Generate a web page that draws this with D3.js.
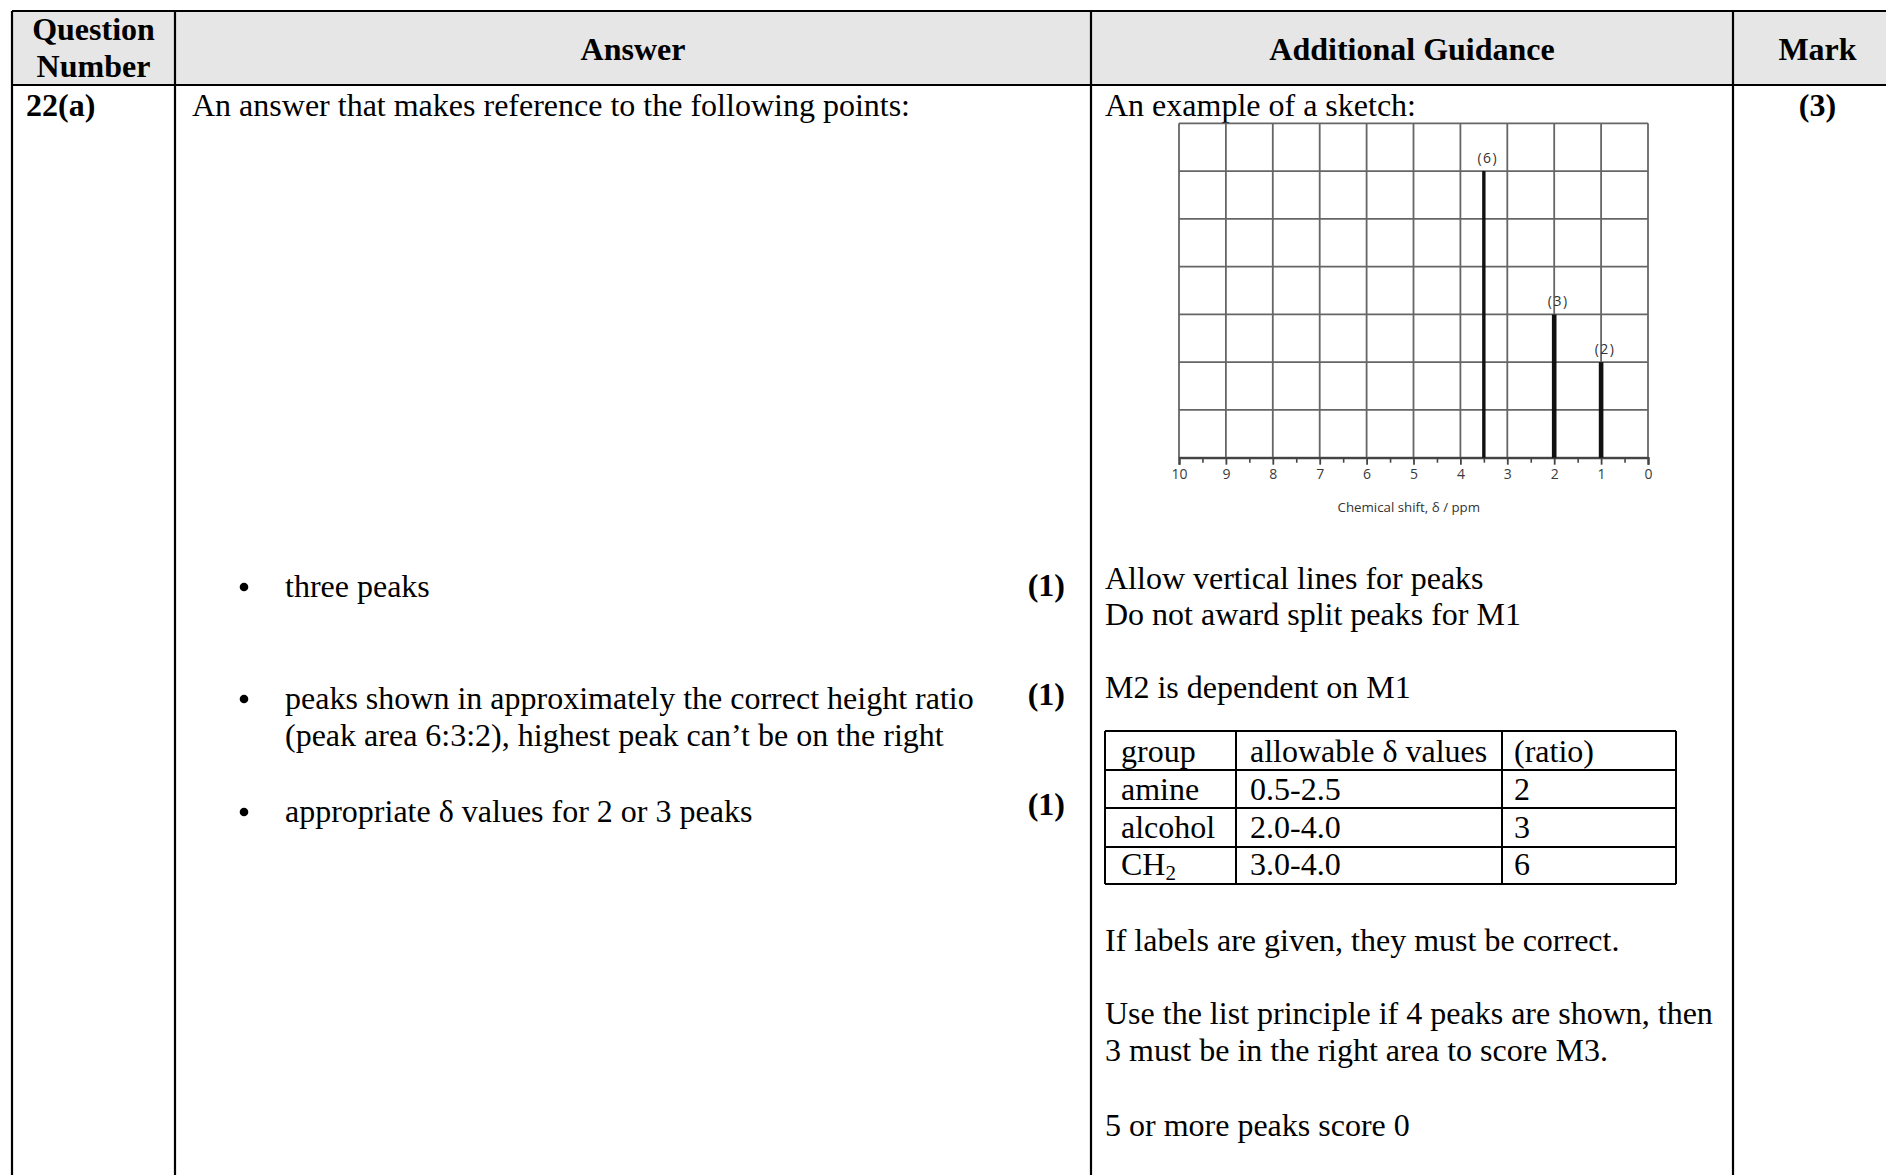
<!DOCTYPE html>
<html><head><meta charset="utf-8">
<script src="https://cdn.jsdelivr.net/npm/d3@7"></script>
<style>
html,body{margin:0;padding:0;background:#fff;overflow:hidden}
svg{display:block}
.serif{font-family:"Liberation Serif","Times New Roman",serif;fill:#000}
.axis text{font-family:"Open Sans","Noto Sans",sans-serif;fill:#3a3a3a}
</style></head>
<body>
<script>
// ---------- data ----------
const headers = ["Answer", "Additional Guidance", "Mark"];
const headerQuestion = ["Question", "Number"];
const questionNumber = "22(a)";
const answerIntro = "An answer that makes reference to the following points:";
const markingPoints = [
  ["three peaks"],
  ["peaks shown in approximately the correct height ratio", "(peak area 6:3:2), highest peak can\u2019t be on the right"],
  ["appropriate \u03b4 values for 2 or 3 peaks"]
];
const pointMarks = ["(1)", "(1)", "(1)"];
const totalMark = "(3)";
const guidanceIntro = "An example of a sketch:";
const guidanceBlock1 = ["Allow vertical lines for peaks", "Do not award split peaks for M1"];
const guidanceBlock2 = ["M2 is dependent on M1"];
const groupNames = ["group", "amine", "alcohol", "CH"];
const groupSub = ["", "", "", "2"];
const deltaRanges = ["allowable \u03b4 values", "0.5-2.5", "2.0-4.0", "3.0-4.0"];
const ratios = ["(ratio)", "2", "3", "6"];
const guidanceBlock3 = ["If labels are given, they must be correct."];
const guidanceBlock4 = ["Use the list principle if 4 peaks are shown, then", "3 must be in the right area to score M3."];
const guidanceBlock5 = ["5 or more peaks score 0"];
// NMR sketch
const shiftTicks = [10, 9, 8, 7, 6, 5, 4, 3, 2, 1, 0];
const minorTicks = [9.5, 8.5, 7.5, 6.5, 5.5, 4.5, 3.5, 2.5, 1.5, 0.5];
const gridRows = [0, 1, 2, 3, 4, 5, 6, 7];
const peakShifts = [3.5, 2, 1];
const peakHeights = [6, 3, 2];
const peakLabels = ["(6)", "(3)", "(2)"];
const axisTitle = "Chemical shift, \u03b4 / ppm";

// ---------- layout ----------
const W = 1886, H = 1175;
const svg = d3.select("body").append("svg").attr("width", W).attr("height", H);
svg.append("rect").attr("width", W).attr("height", H).attr("fill", "#fff");

const T = {left: 12, right: 1902, top: 11, head: 85, bottom: 1200};
const cols = [12, 175, 1091, 1733, 1902];
const FS = 32;

svg.append("rect").attr("x", T.left).attr("y", T.top).attr("width", T.right - T.left).attr("height", T.head - T.top).attr("fill", "#e6e6e6");

const lines = svg.append("g").attr("stroke", "#000").attr("stroke-width", 2.2);
lines.append("line").attr("x1", T.left).attr("x2", T.right).attr("y1", T.top).attr("y2", T.top);
lines.append("line").attr("x1", T.left).attr("x2", T.right).attr("y1", T.head).attr("y2", T.head);
cols.forEach(x => lines.append("line").attr("x1", x).attr("x2", x).attr("y1", T.top).attr("y2", T.bottom));

function text(x, y, s, opts = {}) {
  return svg.append("text").attr("class", "serif").attr("x", x).attr("y", y)
    .attr("font-size", opts.size || FS)
    .attr("font-weight", opts.bold ? "bold" : "normal")
    .attr("text-anchor", opts.anchor || "start")
    .text(s);
}
function block(x, y0, arr, lh = 37) { arr.forEach((s, i) => text(x, y0 + i * lh, s)); }

headerQuestion.forEach((s, i) => text((cols[0] + cols[1]) / 2, 40 + i * 37, s, {bold: true, anchor: "middle"}));
headers.forEach((s, i) => text((cols[i + 1] + cols[i + 2]) / 2, 60, s, {bold: true, anchor: "middle"}));

text(26, 116, questionNumber, {bold: true});
text(192, 116, answerIntro);
text(1105, 116, guidanceIntro);
text((cols[3] + cols[4]) / 2, 116, totalMark, {bold: true, anchor: "middle"});

const pointY = [597, 709, 822];
const markY = [596, 705, 815];
markingPoints.forEach((ls, i) => {
  svg.append("circle").attr("cx", 244).attr("cy", pointY[i] - 10).attr("r", 4.3).attr("fill", "#000");
  block(285, pointY[i], ls);
  text(1065, markY[i], pointMarks[i], {bold: true, anchor: "end"});
});

block(1105, 589, guidanceBlock1, 36);
block(1105, 698, guidanceBlock2);
block(1105, 951, guidanceBlock3);
block(1105, 1024, guidanceBlock4);
block(1105, 1136, guidanceBlock5);

const it = {cols: [1105, 1236, 1502, 1676], rows: [731, 770, 808, 847, 884]};
const ig = svg.append("g").attr("stroke", "#000").attr("stroke-width", 2);
it.rows.forEach(y => ig.append("line").attr("x1", it.cols[0]).attr("x2", it.cols[3]).attr("y1", y).attr("y2", y));
it.cols.forEach(x => ig.append("line").attr("x1", x).attr("x2", x).attr("y1", it.rows[0]).attr("y2", it.rows[4]));
const rowBase = [762, 800, 838, 875];
groupNames.forEach((g, i) => {
  const t = text(1121, rowBase[i], g);
  if (groupSub[i]) t.append("tspan").attr("font-size", 21).attr("dy", 5).text(groupSub[i]);
  text(1250, rowBase[i], deltaRanges[i]);
  text(1514, rowBase[i], ratios[i]);
});

// ---------- NMR sketch ----------
const x = d3.scaleLinear().domain([10, 0]).range([1179, 1648]);
const y = d3.scaleLinear().domain([0, 7]).range([457.7, 123.3]);
const grid = svg.append("g").attr("stroke", "#666").attr("stroke-width", 1.8);
gridRows.forEach(v => grid.append("line").attr("x1", x(10)).attr("x2", x(0)).attr("y1", y(v)).attr("y2", y(v)));
shiftTicks.forEach(v => grid.append("line").attr("x1", x(v)).attr("x2", x(v)).attr("y1", y(0)).attr("y2", y(7)));

const axG = svg.append("g").attr("class", "axis").attr("transform", `translate(0,${y(0)})`);
axG.call(d3.axisBottom(x).tickValues(shiftTicks).tickSize(7).tickPadding(4).tickFormat(d3.format("d")));
axG.select(".domain").attr("stroke", "#444").attr("stroke-width", 2.2);
axG.selectAll(".tick line").attr("stroke", "#444").attr("stroke-width", 1.8);
axG.selectAll(".tick text").attr("font-size", 14);
const minG = svg.append("g").attr("transform", `translate(0,${y(0)})`);
minG.call(d3.axisBottom(x).tickValues(minorTicks).tickSize(5).tickFormat(""));
minG.select(".domain").remove();
minG.selectAll(".tick line").attr("stroke", "#444").attr("stroke-width", 1.6);

svg.append("text").attr("x", x(5.1)).attr("y", 512).attr("text-anchor", "middle")
  .attr("font-family", "'Open Sans','Noto Sans',sans-serif").attr("font-size", 13.3).attr("fill", "#333").text(axisTitle);

const pk = svg.append("g");
peakShifts.forEach((s, i) => {
  pk.append("line").attr("x1", x(s)).attr("x2", x(s)).attr("y1", y(0)).attr("y2", y(peakHeights[i]))
    .attr("stroke", "#111").attr("stroke-width", i === 0 ? 3.4 : 4.6);
  pk.append("text").attr("x", x(s) + 4).attr("y", y(peakHeights[i]) - 8).attr("text-anchor", "middle")
    .attr("font-family", "'Open Sans','Noto Sans',sans-serif").attr("font-size", 14).attr("letter-spacing", 1.5)
    .attr("fill", "#333").text(peakLabels[i]);
});
</script>
</body></html>
